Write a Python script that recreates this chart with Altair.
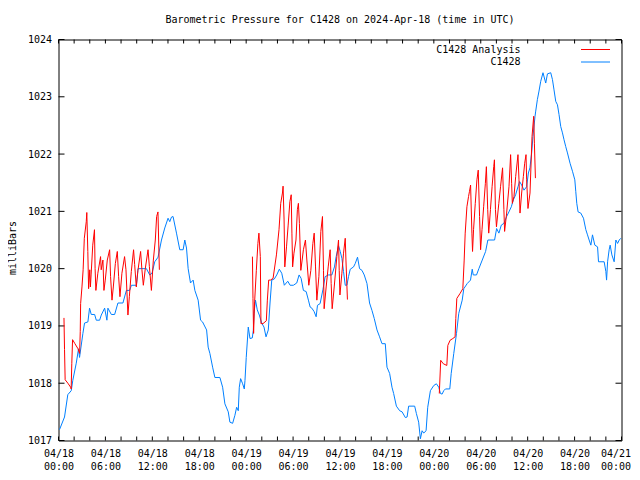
import altair as alt
import pandas as pd

# ---------------- data (hours since 2024-04-18 00:00 UTC, millibars) ----------------
obs_hours = [0.13, 0.77, 1.19, 1.63, 1.83, 2.27, 2.56, 2.69, 3.12, 3.33, 3.76, 3.97, 4.19, 4.62, 4.83,
             5.26, 5.47, 5.90, 6.19, 6.32, 6.76, 7.18, 7.60, 8.24, 8.68, 9.10, 9.32, 9.96, 10.17, 11.24,
             11.67, 11.96, 12.31, 12.73, 13.17, 13.59, 14.01, 14.23, 14.45, 14.65, 15.09, 15.51, 15.94,
             16.15, 16.37, 16.58, 16.88, 17.22, 17.44, 17.86, 18.17, 18.42, 18.94, 19.14, 19.36, 19.71,
             20.00, 20.64, 20.99, 21.28, 21.71, 21.92, 22.27, 22.56, 22.78, 22.99, 23.12, 23.29, 23.55,
             23.76, 23.85, 24.01, 24.27, 24.49, 24.78, 24.91, 25.00, 25.19, 25.42, 25.68, 25.99, 26.28,
             26.54, 26.83, 27.05, 27.27, 27.60, 27.91, 28.24, 28.55, 28.88, 29.32, 29.62, 30.04, 30.47,
             30.77, 31.03, 31.32, 31.67, 31.96, 32.18, 32.40, 32.69, 32.95, 33.12, 33.46, 33.81, 34.10,
             34.53, 34.96, 35.29, 35.51, 35.81, 36.03, 36.24, 36.45, 36.67, 36.88, 37.09, 37.31, 37.73,
             37.95, 38.24, 38.50, 38.81, 39.10, 39.45, 39.78, 40.09, 40.38, 40.73, 41.06, 41.37, 41.79,
             42.01, 42.35, 42.65, 42.86, 43.21, 43.63, 43.94, 44.36, 44.58, 44.78, 45.55, 45.77, 46.06,
             46.28, 46.50, 46.71, 47.01, 47.22, 47.56, 47.99, 48.33, 48.63, 48.85, 49.06, 49.27, 49.49,
             50.04, 50.22, 50.55, 50.90, 51.19, 51.63, 51.83, 52.27, 52.69, 52.91, 53.04, 53.46, 53.76,
             54.19, 54.62, 54.91, 55.77, 56.03, 56.32, 56.63, 56.96, 57.31, 57.60, 57.91, 58.17, 58.46,
             58.76, 58.97, 59.23, 59.53, 59.87, 60.09, 60.29, 60.51, 60.68, 60.94, 61.03, 61.24, 61.45,
             61.67, 61.96, 62.31, 62.53, 62.95, 63.17, 63.37, 63.59, 63.81, 64.01, 64.23, 64.45, 64.65,
             64.87, 65.09, 65.42, 65.73, 66.03, 66.15, 66.28, 66.45, 66.79, 67.14, 67.44, 67.65, 67.86,
             68.08, 68.29, 68.59, 68.94, 69.06, 69.78, 70.00, 70.09, 70.22, 70.42, 70.55, 70.77, 71.06,
             71.28, 71.50, 71.71, 71.92]
obs_mbar = [1017.19, 1017.41, 1017.80, 1017.87, 1018.05, 1018.35, 1018.60, 1018.45, 1018.87, 1019.05,
            1019.07, 1019.31, 1019.20, 1019.20, 1019.10, 1019.10, 1019.19, 1019.31, 1019.10, 1019.31,
            1019.20, 1019.20, 1019.40, 1019.40, 1019.62, 1019.62, 1019.71, 1019.71, 1020.00, 1020.00,
            1019.89, 1019.92, 1020.12, 1020.20, 1020.50, 1020.71, 1020.88, 1020.82, 1020.90, 1020.91,
            1020.62, 1020.33, 1020.33, 1020.50, 1020.36, 1020.00, 1019.75, 1019.80, 1019.62, 1019.45,
            1019.10, 1019.07, 1018.93, 1018.63, 1018.52, 1018.28, 1018.10, 1018.10, 1017.93, 1017.64,
            1017.50, 1017.32, 1017.30, 1017.44, 1017.58, 1017.52, 1017.93, 1018.08, 1017.99, 1017.90,
            1018.05, 1018.45, 1018.98, 1018.78, 1018.79, 1018.92, 1019.22, 1019.45, 1019.28, 1019.19,
            1019.05, 1018.98, 1018.81, 1018.93, 1019.40, 1019.80, 1019.82, 1019.89, 1019.99, 1019.92,
            1019.71, 1019.78, 1019.71, 1019.71, 1019.75, 1019.89, 1019.83, 1019.62, 1019.60, 1019.45,
            1019.33, 1019.31, 1019.25, 1019.16, 1019.36, 1019.39, 1019.63, 1019.86, 1019.89, 1019.89,
            1020.03, 1020.21, 1020.40, 1020.30, 1020.18, 1019.95, 1019.71, 1019.71, 1019.86, 1019.99,
            1020.03, 1020.09, 1020.20, 1020.00, 1019.97, 1019.89, 1019.74, 1019.40, 1019.27, 1019.13,
            1018.93, 1018.81, 1018.69, 1018.69, 1018.28, 1018.17, 1017.93, 1017.82, 1017.60, 1017.52,
            1017.50, 1017.40, 1017.41, 1017.60, 1017.60, 1017.47, 1017.32, 1017.03, 1017.17, 1017.13,
            1017.17, 1017.58, 1017.87, 1017.96, 1017.99, 1017.93, 1017.82, 1017.81, 1017.87, 1017.90,
            1017.90, 1018.17, 1018.52, 1018.87, 1019.22, 1019.45, 1019.65, 1019.74, 1019.80, 1019.99,
            1019.89, 1019.89, 1020.00, 1020.15, 1020.30, 1020.50, 1020.50, 1020.70, 1020.62, 1020.76,
            1020.79, 1020.91, 1020.99, 1021.08, 1021.20, 1021.29, 1021.43, 1021.52, 1021.46, 1021.37,
            1021.43, 1021.67, 1021.76, 1022.02, 1022.31, 1022.66, 1022.75, 1022.95, 1023.10, 1023.27,
            1023.42, 1023.24, 1023.40, 1023.42, 1023.30, 1023.12, 1022.92, 1022.86, 1022.69, 1022.48,
            1022.37, 1022.25, 1022.13, 1022.02, 1021.84, 1021.70, 1021.55, 1021.35, 1021.14, 1020.99,
            1020.97, 1020.88, 1020.68, 1020.59, 1020.50, 1020.41, 1020.59, 1020.41, 1020.38, 1020.12,
            1020.12, 1019.95, 1019.80, 1020.12, 1020.33, 1020.41, 1020.24, 1020.12, 1020.50, 1020.44,
            1020.50, 1020.53]

ana_seg1_hours = [0.70, 0.77, 0.85, 1.20, 1.55, 1.62, 1.70, 1.80, 2.10, 2.50, 2.70, 2.78, 2.83, 3.00,
                  3.15, 3.30, 3.55, 3.62, 3.75, 3.85, 4.00, 4.08, 4.17, 4.38, 4.60, 4.68, 4.78, 5.03,
                  5.38, 5.46, 5.68, 5.81, 5.98, 6.24, 6.54, 6.66, 6.84, 7.01, 7.27, 7.52, 7.69, 7.86,
                  8.11, 8.45, 8.63, 8.88, 9.06, 9.31, 9.60, 9.74, 9.95, 10.16, 10.50, 10.67, 10.85,
                  11.10, 11.45, 11.62, 11.88, 12.13, 12.38, 12.55, 12.72, 12.90]
ana_seg1_mbar = [1019.14, 1018.59, 1018.06, 1018.00, 1017.93, 1017.90, 1018.34, 1018.76, 1018.69,
                 1018.60, 1018.52, 1018.90, 1019.39, 1019.68, 1019.98, 1020.53, 1020.82, 1020.98,
                 1020.30, 1019.65, 1019.98, 1019.68, 1019.89, 1020.41, 1020.68, 1020.00, 1019.62,
                 1019.92, 1020.21, 1019.98, 1020.15, 1019.62, 1019.80, 1020.15, 1020.33, 1019.86,
                 1019.45, 1019.68, 1020.09, 1020.30, 1019.86, 1019.51, 1019.92, 1020.21, 1019.98,
                 1019.19, 1019.51, 1019.95, 1020.33, 1020.07, 1019.68, 1019.97, 1020.30, 1019.98,
                 1019.71, 1020.00, 1020.33, 1020.04, 1019.62, 1020.15, 1020.50, 1020.91, 1020.99,
                 1019.98]

ana_seg2_hours = [24.80, 24.87, 24.95, 25.08, 25.30, 25.50, 25.63, 25.81, 25.89, 26.15, 26.58, 26.71,
                  26.88, 27.10, 27.44, 27.87, 28.20, 28.42, 28.64, 28.72, 28.85, 28.94, 29.16, 29.37,
                  29.59, 29.76, 29.85, 29.94, 30.11, 30.37, 30.55, 30.68, 30.81, 30.99, 31.16, 31.32,
                  31.58, 31.76, 32.01, 32.27, 32.53, 32.70, 32.87, 33.04, 33.30, 33.55, 33.76, 33.89,
                  33.97, 34.23, 34.49, 34.74, 34.87, 35.00, 35.26, 35.60, 35.81, 35.90, 35.99, 36.24,
                  36.45, 36.67, 36.76, 36.88, 36.95]
ana_seg2_mbar = [1020.21, 1019.48, 1018.87, 1019.42, 1019.97, 1020.44, 1020.62, 1020.21, 1019.04,
                 1019.04, 1019.09, 1019.45, 1019.80, 1019.80, 1019.83, 1020.24, 1020.68, 1021.14,
                 1021.32, 1021.44, 1020.85, 1020.03, 1020.38, 1020.76, 1021.17, 1021.29, 1020.62,
                 1020.03, 1020.27, 1020.50, 1021.03, 1021.14, 1020.79, 1019.97, 1020.15, 1020.33,
                 1020.50, 1020.15, 1019.71, 1019.97, 1020.44, 1020.62, 1020.03, 1019.45, 1019.86,
                 1020.65, 1020.91, 1019.97, 1019.30, 1019.68, 1020.03, 1020.33, 1019.74, 1019.30,
                 1019.68, 1020.21, 1020.50, 1019.97, 1019.54, 1019.92, 1020.27, 1020.53, 1020.15,
                 1019.71, 1019.46]

ana_seg3_hours = [48.70, 48.88, 49.21, 49.66, 49.79, 50.08, 50.43, 50.72, 50.81, 50.94, 51.37, 51.71,
                  51.88, 52.01, 52.23, 52.44, 52.56, 52.70, 52.87, 52.95, 53.08, 53.30, 53.51, 53.68,
                  53.85, 53.98, 54.16, 54.37, 54.59, 54.72, 54.89, 55.02, 55.24, 55.45, 55.66, 55.75,
                  55.88, 56.01, 56.31, 56.53, 56.79, 56.96, 57.05, 57.31, 57.61, 57.82, 57.95, 58.04,
                  58.25, 58.47, 58.76, 58.89, 59.02, 59.23, 59.45, 59.62, 59.79, 59.87, 60.04, 60.30,
                  60.56, 60.77, 60.86, 60.99]
ana_seg3_mbar = [1017.82, 1018.40, 1018.34, 1018.31, 1018.66, 1018.75, 1018.78, 1018.81, 1019.13,
                 1019.48, 1019.57, 1019.65, 1020.15, 1020.62, 1021.08, 1021.26, 1021.35, 1021.46,
                 1020.62, 1020.30, 1020.68, 1021.14, 1021.55, 1021.72, 1020.91, 1020.33, 1020.68,
                 1021.08, 1021.49, 1021.78, 1021.03, 1020.62, 1021.03, 1021.43, 1021.78, 1021.90,
                 1021.03, 1020.73, 1021.14, 1021.43, 1021.76, 1021.03, 1020.65, 1020.97, 1021.43,
                 1021.99, 1021.49, 1021.14, 1021.26, 1021.61, 1021.99, 1021.55, 1020.97, 1021.32,
                 1021.61, 1021.84, 1021.99, 1021.55, 1021.05, 1021.32, 1022.31, 1022.66, 1022.19,
                 1021.58]

x_tick_dates = ["04/18", "04/18", "04/18", "04/18", "04/19", "04/19", "04/19", "04/19",
                "04/20", "04/20", "04/20", "04/20", "04/21"]
x_tick_times = ["00:00", "06:00", "12:00", "18:00", "00:00", "06:00", "12:00", "18:00",
                "00:00", "06:00", "12:00", "18:00", "00:00"]
x_label_hours = [0, 6, 12, 18, 24, 30, 36, 42, 48, 54, 60, 66, 72]
x_minor_hours = [0, 2, 4, 6, 8, 10, 12, 14, 16, 18, 20, 22, 24, 26, 28, 30, 32, 34, 36,
                 38, 40, 42, 44, 46, 48, 50, 52, 54, 56, 58, 60, 62, 64, 66, 68, 70, 72]
y_ticks = [1017, 1018, 1019, 1020, 1021, 1022, 1023, 1024]

series_names = ["C1428 Analysis", "C1428"]
series_colors = ["#ff0000", "#0080ff"]

# ---------------- chart ----------------
FONT = "DejaVu Sans Mono"
W, H = 563, 401

obs_df = pd.DataFrame({"hour": obs_hours, "mbar": obs_mbar})
ana_df = pd.concat([
    pd.DataFrame({"hour": ana_seg1_hours, "mbar": ana_seg1_mbar, "seg": 1}),
    pd.DataFrame({"hour": ana_seg2_hours, "mbar": ana_seg2_mbar, "seg": 2}),
    pd.DataFrame({"hour": ana_seg3_hours, "mbar": ana_seg3_mbar, "seg": 3}),
])

xscale = alt.Scale(domain=[0, 72], nice=False, zero=False)
yscale = alt.Scale(domain=[1017, 1024], nice=False, zero=False)

last_hour = x_label_hours[-1]
dates_js = "[" + ",".join("'%s'" % d for d in x_tick_dates) + "]"
times_js = "[" + ",".join("'%s'" % t for t in x_tick_times) + "]"
xaxis = alt.Axis(values=x_label_hours, ticks=False, domain=False, grid=False, title=None,
                 labelExpr=f"[{dates_js}[datum.value/6], {times_js}[datum.value/6]]",
                 labelFont=FONT, labelFontSize=10, labelColor="black", labelPadding=8,
                 labelLineHeight=13, labelFlush=False, labelOverlap=False,
                 labelAlign={"condition": {"test": f"datum.value == {last_hour}", "value": "right"},
                             "value": "center"},
                 labelOffset={"condition": {"test": f"datum.value == {last_hour}", "value": 9},
                              "value": 0})
yaxis = alt.Axis(values=y_ticks, ticks=False, domain=False, grid=False, format="d",
                 title="milliBars", titleFont=FONT, titleFontSize=10, titleFontWeight="normal",
                 titleColor="black", titleX=-46, titleY=208, titleAlign="center",
                 titleBaseline="middle", titleAngle=270,
                 labelFont=FONT, labelFontSize=10, labelColor="black", labelPadding=7)

X = alt.X("hour:Q", scale=xscale, axis=xaxis)
Y = alt.Y("mbar:Q", scale=yscale, axis=yaxis)

obs_line = alt.Chart(obs_df).mark_line(color=series_colors[1], strokeWidth=1).encode(x=X, y=Y)
ana_line = alt.Chart(ana_df).mark_line(color=series_colors[0], strokeWidth=1).encode(
    x=X, y=Y, detail="seg:N")

xt_df = pd.DataFrame({"hour": x_minor_hours})
yt_df = pd.DataFrame({"mbar": y_ticks})
tick_bottom = alt.Chart(xt_df).mark_rule(color="black", strokeWidth=1).encode(
    x=X, y=alt.value(H), y2=alt.value(H - 4))
tick_top = alt.Chart(xt_df).mark_rule(color="black", strokeWidth=1).encode(
    x=X, y=alt.value(0), y2=alt.value(4))
tick_left = alt.Chart(yt_df).mark_rule(color="black", strokeWidth=1).encode(
    y=Y, x=alt.value(0), x2=alt.value(6))
tick_right = alt.Chart(yt_df).mark_rule(color="black", strokeWidth=1).encode(
    y=Y, x=alt.value(W), x2=alt.value(W - 6))

legend_layers = []
for name, col, ypix in zip(series_names, series_colors, [10, 22.5]):
    one = pd.DataFrame({"name": [name]})
    legend_layers.append(
        alt.Chart(one).mark_text(font=FONT, fontSize=10, align="right", baseline="middle",
                                 color="black").encode(
            text="name:N", x=alt.value(462), y=alt.value(ypix)))
    legend_layers.append(
        alt.Chart(one).mark_rule(strokeWidth=1, color=col).encode(
            x=alt.value(522.5), x2=alt.value(551.5), y=alt.value(ypix)))

chart = alt.layer(
    tick_bottom, tick_top, tick_left, tick_right, obs_line, ana_line, *legend_layers
).properties(
    width=W, height=H,
    title=alt.TitleParams("Barometric Pressure for C1428 on 2024-Apr-18 (time in UTC)",
                          font=FONT, fontSize=10, fontWeight="normal", color="black",
                          anchor="middle", offset=10),
    autosize=alt.AutoSizeParams(type="none"),
    padding={"left": 50.5, "top": 31.5, "right": 10.5, "bottom": 31.5},
    background="white",
).configure_view(stroke="black", strokeWidth=1)

chart.save("out.html", embed_options={"renderer": "svg", "actions": False})
